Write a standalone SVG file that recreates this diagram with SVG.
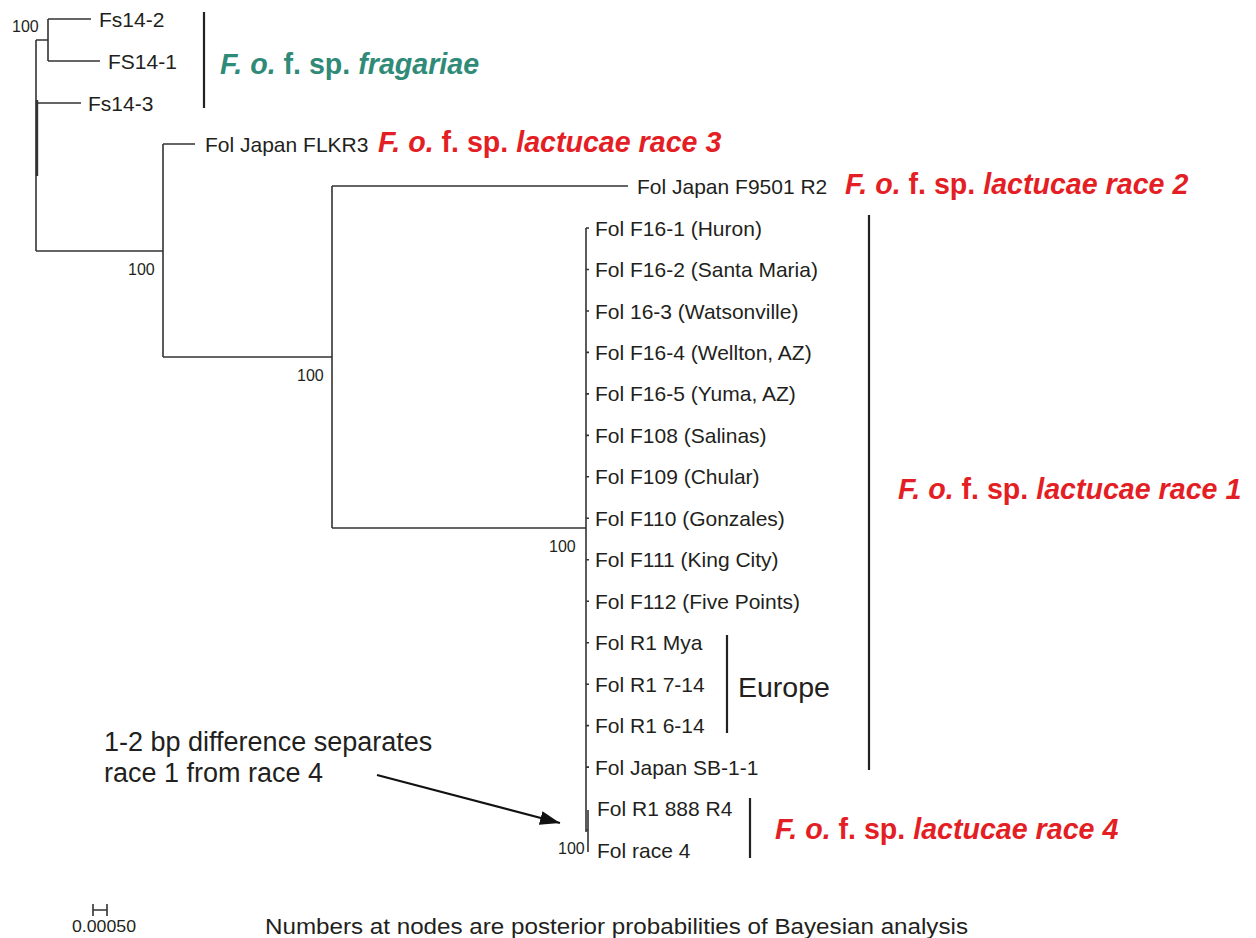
<svg xmlns="http://www.w3.org/2000/svg" width="1256" height="938" viewBox="0 0 1256 938">
<defs>
<style>
.br{fill:none;stroke:#333;stroke-width:1.6}
.bar{fill:none;stroke:#222;stroke-width:2.2}
.tip{font-family:"Liberation Sans",Arial,sans-serif;font-size:21px;fill:#231f20}
.pp{font-family:"Liberation Sans",Arial,sans-serif;font-size:16px;fill:#231f20}
.cl{font-family:"Liberation Sans",Arial,sans-serif;font-size:28.6px;font-weight:bold}
.red{fill:#e31e24}
.grn{fill:#2f8a78}
.it{font-style:italic}
.big{font-family:"Liberation Sans",Arial,sans-serif;font-size:27px;fill:#231f20}
</style>
<marker id="ah2" viewBox="0 0 20 14" refX="20" refY="7" markerWidth="20" markerHeight="14" markerUnits="userSpaceOnUse" orient="auto">
<path d="M0,0 L20,7 L0,14 z" fill="#111"/>
</marker>
</defs>
<rect width="1256" height="938" fill="#fff"/>

<g id="connectors">
<path class="br" d="M36,40 V251 M36,40 H48 M48,19 V61 M48,19 H91 M48,61 H100 M36,103 H81 M36,251 H163 M163,144 V357 M163,144 H195 M163,357 H332 M332,186 V528 M332,186 H628 M332,528 H586 M586,228 V832 M588,810 V852"/>
<path class="br" d="M37,100 V176" style="stroke-width:2.4"/>
<path class="br" d="M586,228 h3 M586,269.5 h3 M586,311 h3 M586,352.4 h3 M586,393.9 h3 M586,435.4 h3 M586,476.8 h3 M586,518.3 h3 M586,559.8 h3 M586,601.2 h3 M586,642.7 h3 M586,684.2 h3 M586,725.6 h3 M586,767.1 h3 M586,830 h2"/>
<line x1="377" y1="775" x2="560" y2="823" stroke="#111" stroke-width="2.2" marker-end="url(#ah2)"/>
</g>

<g id="support">
<text class="pp" x="12" y="32">100</text>
<text class="pp" x="128" y="275">100</text>
<text class="pp" x="297" y="381">100</text>
<text class="pp" x="549" y="552">100</text>
<text class="pp" x="558" y="854">100</text>
</g>

<g id="tip-fs14-2"><text class="tip" x="99" y="26.5">Fs14-2</text></g>
<g id="tip-fs14-1"><text class="tip" x="108" y="68.5">FS14-1</text></g>
<g id="tip-fs14-3"><text class="tip" x="88" y="110.5">Fs14-3</text></g>
<g id="tip-flkr3"><text class="tip" x="205" y="151.5">Fol Japan FLKR3</text></g>
<g id="tip-f9501"><text class="tip" x="637" y="193.5">Fol Japan F9501 R2</text></g>
<g id="tip-f16-1"><text class="tip" x="595" y="235.5">Fol F16-1 (Huron)</text></g>
<g id="tip-f16-2"><text class="tip" x="595" y="277">Fol F16-2 (Santa Maria)</text></g>
<g id="tip-16-3"><text class="tip" x="595" y="318.5">Fol 16-3 (Watsonville)</text></g>
<g id="tip-f16-4"><text class="tip" x="595" y="360">Fol F16-4 (Wellton, AZ)</text></g>
<g id="tip-f16-5"><text class="tip" x="595" y="401.4">Fol F16-5 (Yuma, AZ)</text></g>
<g id="tip-f108"><text class="tip" x="595" y="442.9">Fol F108 (Salinas)</text></g>
<g id="tip-f109"><text class="tip" x="595" y="484.3">Fol F109 (Chular)</text></g>
<g id="tip-f110"><text class="tip" x="595" y="525.8">Fol F110 (Gonzales)</text></g>
<g id="tip-f111"><text class="tip" x="595" y="567.3">Fol F111 (King City)</text></g>
<g id="tip-f112"><text class="tip" x="595" y="608.7">Fol F112 (Five Points)</text></g>
<g id="tip-r1mya"><text class="tip" x="595" y="650.2">Fol R1 Mya</text></g>
<g id="tip-r1-7-14"><text class="tip" x="595" y="691.7">Fol R1 7-14</text></g>
<g id="tip-r1-6-14"><text class="tip" x="595" y="733.1">Fol R1 6-14</text></g>
<g id="tip-sb-1-1"><text class="tip" x="595" y="774.6">Fol Japan SB-1-1</text></g>
<g id="tip-888r4"><text class="tip" x="597" y="816.1">Fol R1 888 R4</text></g>
<g id="tip-race4"><text class="tip" x="597" y="857.5">Fol race 4</text></g>

<g id="clade-fragariae">
<line class="bar" x1="204" y1="12" x2="204" y2="108"/>
<text class="cl grn" x="220" y="74"><tspan class="it">F. o.</tspan> f. sp. <tspan class="it">fragariae</tspan></text>
</g>
<g id="clade-race3">
<text class="cl red" x="378" y="152"><tspan class="it">F. o.</tspan> f. sp. <tspan class="it">lactucae race 3</tspan></text>
</g>
<g id="clade-race2">
<text class="cl red" x="845" y="194"><tspan class="it">F. o.</tspan> f. sp. <tspan class="it">lactucae race 2</tspan></text>
</g>
<g id="clade-race1">
<line class="bar" x1="869" y1="215" x2="869" y2="770"/>
<text class="cl red" x="898" y="499"><tspan class="it">F. o.</tspan> f. sp. <tspan class="it">lactucae race 1</tspan></text>
</g>
<g id="clade-europe">
<line class="bar" x1="727" y1="635" x2="727" y2="733"/>
<text class="big" x="738" y="697" style="font-size:28.5px">Europe</text>
</g>
<g id="clade-race4">
<line class="bar" x1="750" y1="798" x2="750" y2="858"/>
<text class="cl red" x="775" y="839"><tspan class="it">F. o.</tspan> f. sp. <tspan class="it">lactucae race 4</tspan></text>
</g>

<g id="annotation">
<text class="big" x="104" y="751">1-2 bp difference separates</text>
<text class="big" x="104" y="782">race 1 from race 4</text>
</g>

<g id="scale">
<path class="br" d="M93,910 H107 M93,904 V916 M107,904 V916"/>
<text class="pp" x="72" y="932" textLength="64" lengthAdjust="spacingAndGlyphs">0.00050</text>
</g>
<g id="footnote">
<text class="tip" x="265" y="934" style="font-size:22px" textLength="703" lengthAdjust="spacingAndGlyphs">Numbers at nodes are posterior probabilities of Bayesian analysis</text>
</g>
</svg>
